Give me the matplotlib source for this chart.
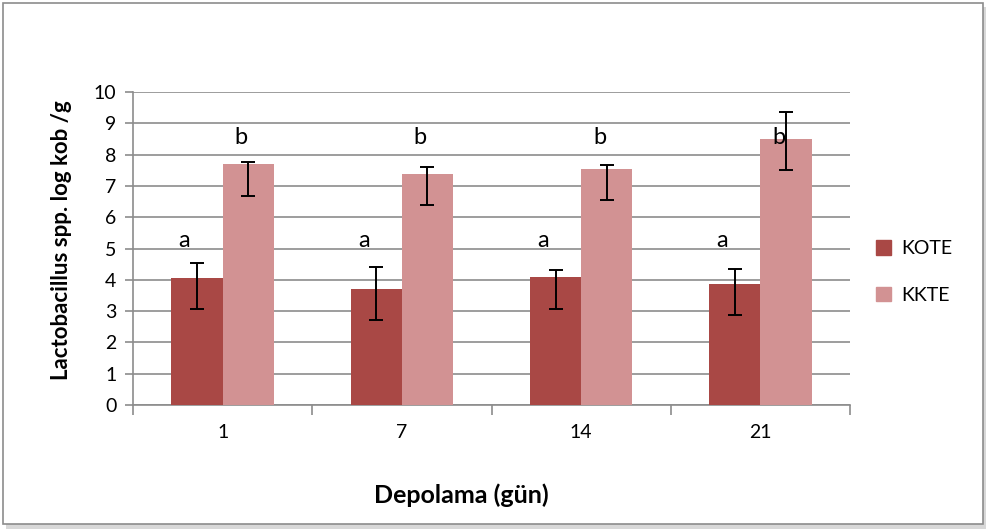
import matplotlib
matplotlib.use("Agg")
import matplotlib.pyplot as plt
from matplotlib.patches import Rectangle
import numpy as np

plt.rcParams['font.family'] = ['Lato', 'DejaVu Sans']

categories = ["1", "7", "14", "21"]
series_names = ["KOTE", "KKTE"]
kote = [4.07, 3.71, 4.08, 3.88]
kkte = [7.69, 7.37, 7.54, 8.49]
kote_err_up = [0.48, 0.70, 0.23, 0.48]
kote_err_down = [1.00, 0.99, 1.00, 1.00]
kkte_err_up = [0.07, 0.22, 0.12, 0.87]
kkte_err_down = [1.00, 0.99, 0.99, 0.99]
kote_letters = ["a", "a", "a", "a"]
kkte_letters = ["b", "b", "b", "b"]
yticks = [0, 1, 2, 3, 4, 5, 6, 7, 8, 9, 10]

W, H = 988, 529
fig = plt.figure(figsize=(W / 100, H / 100), dpi=100)

# outer frame with soft shadow
fig.patches.append(Rectangle((6 / W, 0 / H), 980 / W, 522 / H, transform=fig.transFigure,
                             facecolor="#d8d8d8", edgecolor="none", zorder=0))
fig.patches.append(Rectangle((3 / W, 5 / H), 980 / W, 521 / H, transform=fig.transFigure,
                             facecolor="white", edgecolor="#8c8c8c", linewidth=1.2, zorder=1))

left, right, top, bottom = 133, 850, 92, 405
ax = fig.add_axes([left / W, 1 - bottom / H, (right - left) / W, (bottom - top) / H])
ax.set_zorder(2)
ax.patch.set_alpha(0)

n = len(categories)
x = np.arange(n)
bw = 1 / 3.5
c1, c2 = "#A94845", "#D29293"

ax.bar(x - bw / 2, kote, bw, color=c1, zorder=3, label=series_names[0])
ax.bar(x + bw / 2, kkte, bw, color=c2, zorder=3, label=series_names[1])
ek = dict(fmt="none", ecolor="black", elinewidth=1.4, capsize=5, capthick=1.4, zorder=4)
ax.errorbar(x - bw / 2, kote, yerr=[kote_err_down, kote_err_up], **ek)
ax.errorbar(x + bw / 2, kkte, yerr=[kkte_err_down, kkte_err_up], **ek)

for i in range(n):
    ax.text(x[i] - bw / 2 - 0.07, 5.27, kote_letters[i], ha="center", va="center", fontsize=17, zorder=5)
    ax.text(x[i] + bw / 2 - 0.04, 8.56, kkte_letters[i], ha="center", va="center", fontsize=17, zorder=5)

ax.set_xlim(-0.5, n - 0.5)
ax.set_ylim(0, 10)
ax.set_yticks(yticks)
ax.set_yticklabels([str(t) for t in yticks], fontsize=14)
ax.yaxis.grid(True, color="#8c8c8c", linewidth=1.2, zorder=0)
ax.set_axisbelow(True)
ax.set_xticks(x)
ax.set_xticklabels(categories, fontsize=14)
ax.tick_params(axis="x", length=0, pad=14)
ax.set_xticks(np.arange(n + 1) - 0.5, minor=True)
ax.tick_params(axis="x", which="minor", length=7, color="#8c8c8c", width=1.2)
ax.tick_params(axis="y", length=6, color="#8c8c8c", width=1.2, pad=6)
for s in ["top", "right"]:
    ax.spines[s].set_visible(False)
for s in ["left", "bottom"]:
    ax.spines[s].set_color("#8c8c8c")
    ax.spines[s].set_linewidth(1.2)

fig.text(62 / W, 1 - 240 / H, "Lactobacillus spp. log kob /g", rotation=90, ha="center", va="center",
         fontsize=16, fontweight="bold")
fig.text(461 / W, 1 - 495 / H, "Depolama (gün)", ha="center", va="center", fontsize=18, fontweight="bold")

handles = [Rectangle((0, 0), 1, 1, color=c1), Rectangle((0, 0), 1, 1, color=c2)]
fig.legend(handles, series_names, loc="center left", bbox_to_anchor=(858 / W, 1 - 272 / H),
           frameon=False, fontsize=14, handlelength=0.8, handleheight=0.8, handletextpad=0.5,
           labelspacing=1.5)

fig.savefig("out.png", dpi=100)
